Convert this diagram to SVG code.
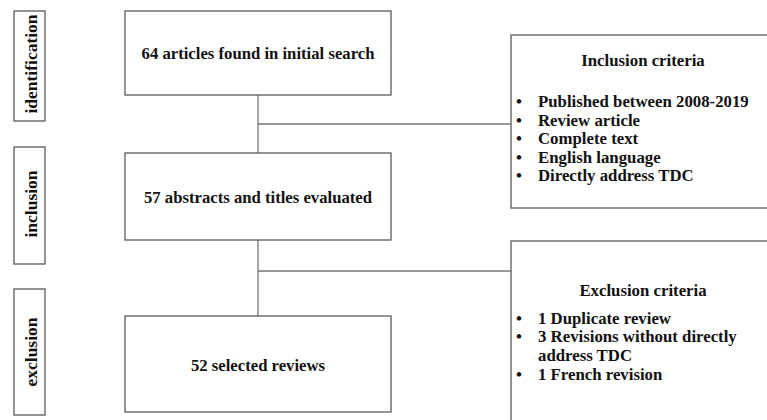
<svg xmlns="http://www.w3.org/2000/svg" width="767" height="420" viewBox="0 0 767 420">
<style>
.box{fill:#fff;stroke:#5a5a5a;stroke-width:1.3}
.t{font-family:"Liberation Serif","Times New Roman",serif;font-weight:bold;fill:#111}
.c{text-anchor:middle}
.side{font-size:17.5px}
.main{font-size:16.7px}
.crit{font-size:16.8px}
.conn{stroke:#777;stroke-width:1.3;fill:none}
</style>
<rect width="767" height="420" fill="#fff"/>
<g id="connectors">
<line class="conn" x1="258" y1="95" x2="258" y2="153"/>
<line class="conn" x1="258" y1="124" x2="511" y2="124"/>
<line class="conn" x1="258" y1="240" x2="258" y2="316"/>
<line class="conn" x1="258" y1="271" x2="511" y2="271"/>
</g>
<g id="label-identification">
<rect class="box" x="14" y="11" width="31" height="110"/>
<text class="t side c" transform="translate(36.5,64) rotate(-90)">identification</text>
</g>
<g id="label-inclusion">
<rect class="box" x="14" y="147" width="31" height="117"/>
<text class="t side c" transform="translate(36.5,204) rotate(-90)">inclusion</text>
</g>
<g id="label-exclusion">
<rect class="box" x="14" y="289" width="31" height="126"/>
<text class="t side c" transform="translate(36.5,352) rotate(-90)">exclusion</text>
</g>
<g id="node-articles">
<rect class="box" x="125" y="11" width="266" height="84"/>
<text class="t main c" x="258" y="59">64 articles found in initial search</text>
</g>
<g id="node-abstracts">
<rect class="box" x="125" y="153" width="266" height="87"/>
<text class="t main c" x="258" y="203">57 abstracts and titles evaluated</text>
</g>
<g id="node-selected">
<rect class="box" x="125" y="316" width="266" height="96"/>
<text class="t main c" x="258" y="371">52 selected reviews</text>
</g>
<g id="node-inclusion-criteria">
<rect class="box" x="511" y="35" width="258" height="173"/>
<text class="t crit c" x="643" y="66">Inclusion criteria</text>
<text class="t crit"><tspan x="516" y="107">•</tspan><tspan x="538" y="107">Published between 2008-2019</tspan><tspan x="516" y="126">•</tspan><tspan x="538" y="126">Review article</tspan><tspan x="516" y="144">•</tspan><tspan x="538" y="144">Complete text</tspan><tspan x="516" y="163">•</tspan><tspan x="538" y="163">English language</tspan><tspan x="516" y="181">•</tspan><tspan x="538" y="181">Directly address TDC</tspan></text>
</g>
<g id="node-exclusion-criteria">
<rect class="box" x="511" y="241" width="258" height="185"/>
<text class="t crit c" x="643" y="296">Exclusion criteria</text>
<text class="t crit"><tspan x="516" y="324">•</tspan><tspan x="538" y="324">1 Duplicate review</tspan><tspan x="516" y="342">•</tspan><tspan x="538" y="342">3 Revisions without directly</tspan><tspan x="538" y="361">address TDC</tspan><tspan x="516" y="380">•</tspan><tspan x="538" y="380">1 French revision</tspan></text>
</g>
</svg>
